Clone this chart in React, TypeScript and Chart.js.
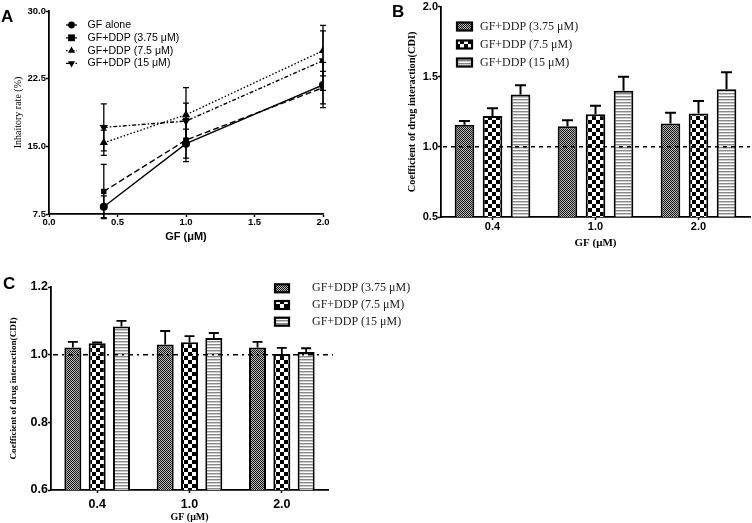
import React, { useEffect, useRef } from "react";
import { Chart, registerables } from "chart.js";

Chart.register(...registerables);

// ---------- DATA ----------
const doses = [0.4, 1.0, 2.0];
const lineLabels = ["GF alone", "GF+DDP (3.75 μM)", "GF+DDP (7.5 μM)", "GF+DDP (15 μM)"];
const gfAlone = [8.3, 15.3, 21.8];
const gfAloneErr = [1.2, 1.6, 2.5];
const gfDdp375 = [10.0, 15.7, 21.5];
const gfDdp375Err = [3.0, 2.4, 1.8];
const gfDdp75 = [15.4, 18.5, 25.6];
const gfDdp75Err = [1.4, 3.0, 2.8];
const gfDdp15 = [17.1, 17.8, 24.5];
const gfDdp15Err = [2.6, 2.0, 3.3];
const xTicksA = [0, 0.5, 1.0, 1.5, 2.0];
const yTicksA = [7.5, 15.0, 22.5, 30.0];

const categories = ["0.4", "1.0", "2.0"];
const barLabels = ["GF+DDP (3.75 μM)", "GF+DDP (7.5 μM)", "GF+DDP (15 μM)"];
const cdiB375 = [1.157, 1.147, 1.166];
const cdiB375Err = [0.028, 0.043, 0.078];
const cdiB75 = [1.22, 1.233, 1.237];
const cdiB75Err = [0.055, 0.06, 0.09];
const cdiB15 = [1.374, 1.4, 1.41];
const cdiB15Err = [0.066, 0.1, 0.122];
const yTicksB = [0.5, 1.0, 1.5, 2.0];

const cdiC375 = [1.021, 1.03, 1.021];
const cdiC375Err = [0.017, 0.04, 0.017];
const cdiC75 = [1.034, 1.037, 1.002];
const cdiC75Err = [0.002, 0.018, 0.018];
const cdiC15 = [1.083, 1.049, 1.008];
const cdiC15Err = [0.017, 0.015, 0.011];
const yTicksC = [0.6, 0.8, 1.0, 1.2];

const cdiThreshold = 1.0;

// ---------- STYLE ----------
const SANS = "'Liberation Sans', Arial, sans-serif";
const SERIF = "'Liberation Serif', 'Times New Roman', serif";

function makePattern(kind: string): CanvasPattern | string {
  const c = document.createElement("canvas");
  const g = c.getContext("2d")!;
  if (kind === "fine") {
    c.width = 2; c.height = 2;
    g.fillStyle = "#bdbdbd"; g.fillRect(0, 0, 2, 2);
    g.fillStyle = "#111"; g.fillRect(0, 0, 1, 1); g.fillRect(1, 1, 1, 1);
  } else if (kind === "checker") {
    c.width = 8; c.height = 8;
    g.fillStyle = "#fff"; g.fillRect(0, 0, 8, 8);
    g.fillStyle = "#000"; g.fillRect(0, 0, 4, 4); g.fillRect(4, 4, 4, 4);
  } else {
    c.width = 4; c.height = 3;
    g.fillStyle = "#fff"; g.fillRect(0, 0, 4, 3);
    g.fillStyle = "#888"; g.fillRect(0, 0, 4, 1);
    g.fillStyle = "#ccc"; g.fillRect(0, 1, 4, 1);
  }
  return g.createPattern(c, "repeat") || "#888";
}

function drawMarker(ctx: CanvasRenderingContext2D, style: string, rot: number, x: number, y: number, r: number) {
  ctx.save();
  ctx.translate(x, y);
  ctx.rotate((rot * Math.PI) / 180);
  ctx.beginPath();
  if (style === "circle") ctx.arc(0, 0, r, 0, Math.PI * 2);
  else if (style === "rect") ctx.rect(-r, -r, 2 * r, 2 * r);
  else {
    ctx.moveTo(0, -r * 1.2);
    ctx.lineTo(r * 1.05, r * 0.65);
    ctx.lineTo(-r * 1.05, r * 0.65);
    ctx.closePath();
  }
  ctx.fillStyle = "#000";
  ctx.fill();
  ctx.restore();
}

const errorBarPlugin = {
  id: "errorBars",
  afterDatasetsDraw(chart: any, _args: any, opts: any) {
    const ctx = chart.ctx;
    const yScale = chart.scales.y;
    ctx.save();
    ctx.strokeStyle = "#000";
    ctx.lineWidth = opts.width || 1.5;
    chart.data.datasets.forEach((ds: any, i: number) => {
      const errs = ds.errors;
      if (!errs) return;
      const meta = chart.getDatasetMeta(i);
      meta.data.forEach((el: any, j: number) => {
        const raw = ds.data[j];
        const v = typeof raw === "object" ? raw.y : raw;
        const x = el.x;
        const yTop = yScale.getPixelForValue(v + errs[j]);
        const yBot = opts.both ? yScale.getPixelForValue(v - errs[j]) : el.y;
        const cap = opts.cap || 4;
        ctx.beginPath();
        ctx.moveTo(x, yBot);
        ctx.lineTo(x, yTop);
        ctx.moveTo(x - cap, yTop);
        ctx.lineTo(x + cap, yTop);
        if (opts.both) {
          ctx.moveTo(x - cap, yBot);
          ctx.lineTo(x + cap, yBot);
        }
        ctx.stroke();
      });
    });
    ctx.restore();
  },
};

const thresholdPlugin = {
  id: "threshold",
  afterDatasetsDraw(chart: any, _args: any, opts: any) {
    if (opts.value === undefined) return;
    const ctx = chart.ctx;
    const y = chart.scales.y.getPixelForValue(opts.value);
    const { left, right } = chart.chartArea;
    ctx.save();
    ctx.strokeStyle = "#000";
    ctx.lineWidth = opts.width || 1.5;
    ctx.setLineDash(opts.dash || [4, 4]);
    ctx.beginPath();
    ctx.moveTo(left + 2, y);
    ctx.lineTo(right + (opts.extend || 0), y);
    ctx.stroke();
    ctx.restore();
  },
};

const lineLegendPlugin = {
  id: "lineLegend",
  afterDraw(chart: any, _args: any, opts: any) {
    if (!opts.show) return;
    const ctx = chart.ctx;
    ctx.save();
    chart.data.datasets.forEach((ds: any, i: number) => {
      const y = opts.y + i * opts.dy;
      ctx.strokeStyle = "#000";
      ctx.lineWidth = 1.3;
      ctx.setLineDash(ds.borderDash || []);
      ctx.beginPath();
      ctx.moveTo(opts.x, y);
      ctx.lineTo(opts.x + opts.len, y);
      ctx.stroke();
      ctx.setLineDash([]);
      drawMarker(ctx, ds.pointStyle, ds.pointRotation || 0, opts.x + opts.len / 2, y, 3.4);
      ctx.fillStyle = "#000";
      ctx.font = opts.font;
      ctx.textBaseline = "middle";
      ctx.textAlign = "left";
      ctx.fillText(ds.label, opts.textX, y);
    });
    ctx.restore();
  },
};

const barLegendPlugin = {
  id: "barLegend",
  afterDraw(chart: any, _args: any, opts: any) {
    if (!opts.show) return;
    const ctx = chart.ctx;
    ctx.save();
    chart.data.datasets.forEach((ds: any, i: number) => {
      const y = opts.y + i * opts.dy;
      ctx.fillStyle = ds.backgroundColor;
      ctx.fillRect(opts.x, y - opts.h / 2, opts.w, opts.h);
      ctx.strokeStyle = "#000";
      ctx.lineWidth = 2.2;
      ctx.strokeRect(opts.x, y - opts.h / 2, opts.w, opts.h);
      ctx.fillStyle = "#222";
      ctx.font = opts.font;
      ctx.textBaseline = "middle";
      ctx.textAlign = "left";
      ctx.fillText(ds.label, opts.textX, y);
    });
    ctx.restore();
  },
};

function axisCommon(tickSize: number, tickLen: number, pad: number) {
  return {
    ticks: {
      color: "#000",
      font: { family: SANS, weight: "bold" as const, size: tickSize },
      padding: pad,
      autoSkip: false,
      maxRotation: 0,
    },
    grid: {
      display: true,
      drawOnChartArea: false,
      drawTicks: true,
      tickLength: tickLen,
      tickColor: "#000",
      tickWidth: 1.5,
      color: "#000",
    },
    border: { display: true, color: "#000", width: 1.8 },
  };
}

function lineConfig(): any {
  const series = [
    { data: gfAlone, err: gfAloneErr, dash: [], style: "circle", rot: 0, r: 4 },
    { data: gfDdp375, err: gfDdp375Err, dash: [6, 3], style: "rect", rot: 0, r: 3.8 },
    { data: gfDdp75, err: gfDdp75Err, dash: [1.5, 2], style: "triangle", rot: 0, r: 4.8 },
    { data: gfDdp15, err: gfDdp15Err, dash: [4, 2, 1.5, 2], style: "triangle", rot: 180, r: 4.8 },
  ];
  const xc = axisCommon(9.5, 3, 0);
  const yc = axisCommon(9.5, 3, 0);
  return {
    type: "line",
    data: {
      datasets: series.map((s, i) => ({
        label: lineLabels[i],
        data: doses.map((x, j) => ({ x, y: s.data[j] })),
        errors: s.err,
        borderColor: "#000",
        backgroundColor: "#000",
        borderWidth: 1.4,
        borderDash: s.dash,
        pointStyle: s.style,
        pointRotation: s.rot,
        pointRadius: s.r,
        pointBorderWidth: 0,
        tension: 0,
      })),
    },
    options: {
      animation: false,
      responsive: false,
      layout: { padding: { left: 0, top: 11, right: 53, bottom: 0 } },
      plugins: {
        legend: { display: false },
        tooltip: { enabled: false },
        errorBars: { both: true, cap: 3, width: 1.3 },
        lineLegend: { show: true, x: 66, y: 25, dy: 12.8, len: 11, textX: 87.5, font: `10.6px ${SANS}` },
      },
      scales: {
        x: {
          type: "linear",
          min: 0,
          max: 2,
          ...xc,
          ticks: { ...xc.ticks, callback: (v: number) => Number(v).toFixed(1) },
          afterBuildTicks: (s: any) => { s.ticks = xTicksA.map((v) => ({ value: v })); },
          afterFit: (s: any) => { s.height = 38; },
          title: { display: true, text: "GF (μM)", color: "#000", font: { family: SANS, weight: "bold", size: 11 }, padding: { top: 0, bottom: 8.4 } },
        },
        y: {
          type: "linear",
          min: 7.5,
          max: 30,
          ...yc,
          ticks: { ...yc.ticks, callback: (v: number) => Number(v).toFixed(1) },
          afterBuildTicks: (s: any) => { s.ticks = yTicksA.map((v) => ({ value: v })); },
          afterFit: (s: any) => { s.width = 49; },
          title: { display: true, text: "Inhaitory rate (%)", color: "#000", font: { family: SERIF, size: 10 }, padding: { top: 12, bottom: 0 } },
        },
      },
    },
    plugins: [errorBarPlugin, lineLegendPlugin],
  };
}

function barConfig(panel: "B" | "C"): any {
  const isB = panel === "B";
  const vals = isB ? [cdiB375, cdiB75, cdiB15] : [cdiC375, cdiC75, cdiC15];
  const errs = isB ? [cdiB375Err, cdiB75Err, cdiB15Err] : [cdiC375Err, cdiC75Err, cdiC15Err];
  const pats = [makePattern("fine"), makePattern("checker"), makePattern("stripes")];
  const yTicks = isB ? yTicksB : yTicksC;
  const tickSize = isB ? 11 : 12.5;
  const xc = axisCommon(tickSize, 3, isB ? 0 : 4);
  const yc = axisCommon(tickSize, 3, 0);
  return {
    type: "bar",
    data: {
      labels: categories,
      datasets: vals.map((v, i) => ({
        label: barLabels[i],
        data: v,
        errors: errs[i],
        backgroundColor: pats[i],
        borderColor: "#000",
        borderWidth: 2,
        categoryPercentage: isB ? 0.816 : 0.79,
        barPercentage: 0.7,
      })),
    },
    options: {
      animation: false,
      responsive: false,
      layout: { padding: isB ? { left: 0, top: 5, right: 2, bottom: 0 } : { left: 0, top: 27, right: 424, bottom: 0 } },
      plugins: {
        legend: { display: false },
        tooltip: { enabled: false },
        errorBars: { both: false, cap: isB ? 5.5 : 5, width: isB ? 2 : 1.8 },
        threshold: { value: cdiThreshold, dash: isB ? [4, 4] : [5, 4, 2, 4], width: 1.5, extend: isB ? 0 : 5 },
        barLegend: isB
          ? { show: true, x: 77, y: 26.5, dy: 18, w: 15, h: 8, textX: 100, font: `12px ${SERIF}` }
          : { show: true, x: 275, y: 28.3, dy: 16.7, w: 14, h: 8, textX: 312, font: `12px ${SERIF}` },
      },
      scales: {
        x: {
          type: "category",
          ...xc,
          grid: { ...xc.grid, offset: false },
          afterFit: (s: any) => { s.height = isB ? 39 : 33; },
          title: {
            display: true,
            text: "GF (μM)",
            color: "#000",
            font: { family: SERIF, weight: "bold", size: isB ? 11 : 10 },
            padding: { top: 0, bottom: isB ? 6 : 0 },
          },
        },
        y: {
          type: "linear",
          min: yTicks[0],
          max: yTicks[yTicks.length - 1],
          ...yc,
          ticks: { ...yc.ticks, callback: (v: number) => Number(v).toFixed(1) },
          afterBuildTicks: (s: any) => { s.ticks = yTicks.map((v) => ({ value: v })); },
          afterFit: (s: any) => { s.width = isB ? 61 : 51; },
          title: {
            display: true,
            text: "Coefficient of drug interaction(CDI)",
            color: "#000",
            font: { family: SERIF, weight: "bold", size: isB ? 10.4 : 9.2 },
            padding: { top: isB ? 25.6 : 7.8, bottom: 0 },
          },
        },
      },
    },
    plugins: [errorBarPlugin, thresholdPlugin, barLegendPlugin],
  };
}

function ChartCanvas({ make, left, top, width, height }: { make: () => any; left: number; top: number; width: number; height: number }) {
  const ref = useRef<HTMLCanvasElement | null>(null);
  useEffect(() => {
    if (!ref.current) return;
    const chart = new Chart(ref.current, make());
    return () => chart.destroy();
  }, []);
  return (
    <canvas
      ref={ref}
      width={width}
      height={height}
      style={{ position: "absolute", left, top, width, height, display: "block" }}
    />
  );
}

const panelLabel: React.CSSProperties = {
  position: "absolute",
  fontFamily: SANS,
  fontWeight: "bold",
  fontSize: 17,
  lineHeight: "17px",
  color: "#000",
};

export default function App() {
  return (
    <div style={{ position: "absolute", left: 0, top: 0, width: 752, height: 523, background: "#fff", overflow: "hidden" }}>
      <ChartCanvas make={lineConfig} left={0} top={0} width={376} height={252} />
      <ChartCanvas make={() => barConfig("B")} left={380} top={0} width={372} height={256} />
      <ChartCanvas make={() => barConfig("C")} left={0} top={260} width={752} height={263} />
      <div style={{ ...panelLabel, left: 1, top: 7.5 }}>A</div>
      <div style={{ ...panelLabel, left: 392, top: 3 }}>B</div>
      <div style={{ ...panelLabel, left: 3, top: 274.5 }}>C</div>
    </div>
  );
}
